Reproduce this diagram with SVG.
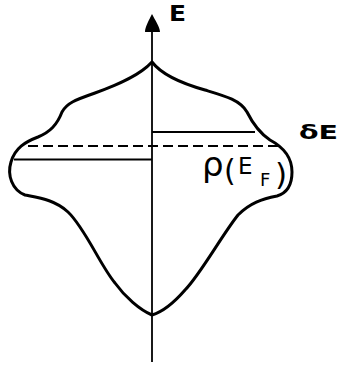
<svg xmlns="http://www.w3.org/2000/svg" width="339" height="369" viewBox="0 0 339 369">
<style>
.curve{fill:none;stroke:#000;stroke-width:3;stroke-linejoin:round;stroke-linecap:round}
.ln{fill:none;stroke:#000;stroke-width:1.8}
.dash{fill:none;stroke:#000;stroke-width:2;stroke-dasharray:10 5}
.lbl{font-family:"DejaVu Sans","Liberation Sans",sans-serif;fill:#000}
</style>
<rect width="339" height="369" fill="#fff"/>
<g id="connectors">
<line class="ln" x1="152" y1="30" x2="152" y2="362"/>
<path d="M152,14 C149,20 145,27 145,32 L160,32 C160,27 155,20 152,14 Z" fill="#000"/>
<line class="ln" x1="152" y1="132" x2="255" y2="132"/>
<line class="ln" x1="14" y1="159.5" x2="152" y2="159.5"/>
<line class="dash" x1="28" y1="146" x2="280" y2="146"/>
</g>
<g id="dos">
<path class="curve" d="M152,62 C140,75 120,84 95,93 C75,100 67,103 62,112 C57,125 50,132 38,137 C25,142 15,148 11,162 C7,175 12,190 25,195 C40,198 55,200 68,212 C85,228 100,265 115,283 C125,297 140,310 152,315 C162,312 172,305 185,290 C200,275 222,235 238,215 C250,203 262,199 277,196 C287,193 292,185 292,172 C292,158 285,148 270,140 C258,132 252,122 247,112 C240,100 225,96 205,90 C180,83 162,75 152,62 Z"/>
</g>
<g id="labels">
<text class="lbl" x="169" y="21" font-size="22" font-weight="bold" textLength="17" lengthAdjust="spacingAndGlyphs">E</text>
<text class="lbl" x="299" y="139" font-size="20" font-weight="bold" textLength="39" lengthAdjust="spacingAndGlyphs">δE</text>
<text class="lbl" x="202" y="176" font-size="34">ρ</text>
<text class="lbl" x="224" y="181" font-size="30">(</text>
<text class="lbl" x="238" y="174" font-size="23">E</text>
<text class="lbl" x="260" y="186" font-size="18">F</text>
<text class="lbl" x="275" y="185" font-size="31">)</text>
</g>
</svg>
